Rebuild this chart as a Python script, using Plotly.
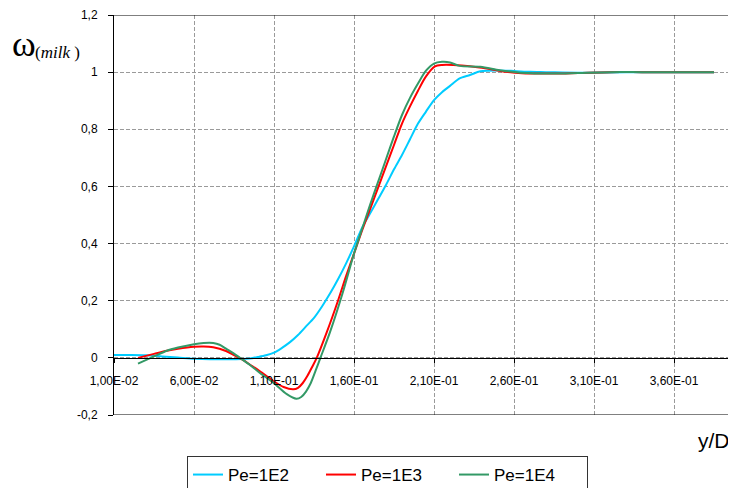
import plotly.graph_objects as go

# ---- data ----
x_pe1e2 = [0.01, 0.02, 0.03, 0.04, 0.05, 0.06, 0.07, 0.08, 0.09, 0.095, 0.10, 0.105,
           0.11, 0.115, 0.12, 0.125, 0.13, 0.135, 0.14, 0.145, 0.15, 0.155, 0.16,
           0.165, 0.17, 0.175, 0.18, 0.185, 0.19, 0.195, 0.20, 0.205, 0.21, 0.215,
           0.22, 0.226, 0.2325, 0.239, 0.25, 0.26, 0.27, 0.28, 0.30, 0.32, 0.34,
           0.36, 0.385]
y_pe1e2 = [0.010, 0.010, 0.009, 0.005, 0.001, -0.003, -0.005, -0.005, -0.004, -0.002,
           0.003, 0.009, 0.018, 0.035, 0.055, 0.080, 0.110, 0.140, 0.180, 0.225,
           0.275, 0.330, 0.390, 0.455, 0.505, 0.555, 0.605, 0.660, 0.710, 0.765,
           0.820, 0.862, 0.902, 0.930, 0.952, 0.978, 0.990, 1.003, 1.006, 1.004,
           1.001, 1.000, 0.998, 0.999, 1.000, 1.000, 1.000]

x_pe1e3 = [0.025, 0.035, 0.043, 0.05, 0.06, 0.066, 0.072, 0.08, 0.085, 0.0908, 0.095,
           0.101, 0.1096, 0.116, 0.122, 0.125, 0.128, 0.131, 0.134, 0.1367, 0.143,
           0.15, 0.155, 0.16, 0.165, 0.17, 0.175, 0.18, 0.185, 0.19, 0.195, 0.20,
           0.205, 0.2106, 0.215, 0.222, 0.2325, 0.243, 0.255, 0.265, 0.285, 0.30,
           0.32, 0.34, 0.36, 0.385]
y_pe1e3 = [0.000, 0.014, 0.025, 0.032, 0.039, 0.040, 0.037, 0.024, 0.010, -0.008,
           -0.024, -0.046, -0.081, -0.102, -0.110, -0.105, -0.088, -0.062, -0.030,
           0.000, 0.090, 0.200, 0.285, 0.365, 0.445, 0.520, 0.595, 0.670, 0.745,
           0.820, 0.880, 0.935, 0.985, 1.020, 1.025, 1.025, 1.021, 1.013, 1.001,
           0.996, 0.995, 0.997, 1.000, 1.000, 1.000, 1.000]

x_pe1e4 = [0.025, 0.035, 0.043, 0.05, 0.06, 0.066, 0.072, 0.076, 0.08, 0.085, 0.089,
           0.095, 0.101, 0.1096, 0.118, 0.124, 0.127, 0.130, 0.133, 0.136, 0.139,
           0.145, 0.153, 0.16, 0.165, 0.17, 0.175, 0.18, 0.185, 0.19, 0.195, 0.20,
           0.205, 0.21, 0.215, 0.22, 0.226, 0.239, 0.251, 0.264, 0.285, 0.30, 0.32,
           0.34, 0.36, 0.385]
y_pe1e4 = [-0.020, 0.005, 0.025, 0.036, 0.048, 0.052, 0.052, 0.046, 0.032, 0.015,
           -0.001, -0.025, -0.052, -0.087, -0.127, -0.143, -0.137, -0.118, -0.088,
           -0.045, 0.000, 0.090, 0.229, 0.365, 0.450, 0.535, 0.615, 0.695, 0.775,
           0.850, 0.910, 0.960, 1.005, 1.030, 1.036, 1.034, 1.022, 1.019, 1.007,
           0.998, 0.995, 0.997, 1.000, 1.000, 1.000, 1.000]

series_names = ["Pe=1E2", "Pe=1E3", "Pe=1E4"]
series_colors = ["#00CCFF", "#FF0000", "#339966"]

x_tickvals = [0.01, 0.06, 0.11, 0.16, 0.21, 0.26, 0.31, 0.36]
x_ticktext = ["1,00E-02", "6,00E-02", "1,10E-01", "1,60E-01", "2,10E-01",
              "2,60E-01", "3,10E-01", "3,60E-01"]
y_tickvals = [-0.2, 0, 0.2, 0.4, 0.6, 0.8, 1.0, 1.2]
y_ticktext = ["-0,2", "0", "0,2", "0,4", "0,6", "0,8", "1", "1,2"]

FONT = "Arial, Liberation Sans, sans-serif"
SERIF = "Times New Roman, Liberation Serif, serif"
GRID_DASH = "4px,2px"

# page has an 8px body margin; plot area sits at page x 114..736, y 15..415
fig = go.Figure()
for xs, ys, name, col in zip([x_pe1e2, x_pe1e3, x_pe1e4],
                             [y_pe1e2, y_pe1e3, y_pe1e4],
                             series_names, series_colors):
    fig.add_trace(go.Scatter(x=xs, y=ys, name=name, mode="lines",
                             line=dict(color=col, width=2, shape="spline", smoothing=0.8)))

fig.update_layout(
    width=728, height=480,
    margin=dict(l=106, r=0, t=7, b=73, autoexpand=False),
    paper_bgcolor="white", plot_bgcolor="white",
    font=dict(family=FONT, size=12, color="black"),
    xaxis=dict(range=[0.01, 0.39875], anchor="free", position=0.2 / 1.4,
               tickvals=x_tickvals, ticktext=x_ticktext,
               showline=True, linecolor="black", linewidth=1,
               ticks="outside", ticklen=4, tickcolor="black",
               ticklabelstandoff=8,
               showgrid=True, gridcolor="#9a9a9a", griddash=GRID_DASH, gridwidth=1,
               zeroline=False, tickfont=dict(size=12)),
    yaxis=dict(range=[-0.2, 1.2], tickvals=y_tickvals, ticktext=y_ticktext,
               showline=True, linecolor="black", linewidth=1,
               ticks="outside", ticklen=5, tickcolor="black",
               ticklabelstandoff=8,
               showgrid=True, gridcolor="#9a9a9a", griddash=GRID_DASH, gridwidth=1,
               zeroline=False, tickfont=dict(size=12)),
    showlegend=True,
    legend=dict(orientation="h", x=(187 - 114) / 622, y=(415 - 456) / 400,
                xanchor="left", yanchor="top",
                bordercolor="#333333", borderwidth=1, font=dict(size=17),
                entrywidth=88, entrywidthmode="pixels", bgcolor="white",
                tracegroupgap=0, itemwidth=30),
)

# top and bottom frame lines
for yv in [1.2, -0.2]:
    fig.add_shape(type="line", xref="paper", yref="y", x0=0, x1=1, y0=yv, y1=yv,
                  line=dict(color="black", width=1))

# axis titles
fig.add_annotation(text="ω", xref="paper", yref="paper", x=(10 - 114) / 622,
                   y=(415 - 44) / 400, xanchor="left", yanchor="middle",
                   showarrow=False, font=dict(family=SERIF, size=36, color="black"))
fig.add_annotation(text="(<i>milk</i> )", xref="paper", yref="paper", x=(33 - 114) / 622,
                   y=(415 - 53) / 400, xanchor="left", yanchor="middle",
                   showarrow=False, font=dict(family=SERIF, size=17, color="black"))
fig.add_annotation(text="y/D", xref="paper", yref="paper", x=(714 - 114) / 622,
                   y=(415 - 440) / 400, xanchor="center", yanchor="middle",
                   showarrow=False, font=dict(family=FONT, size=21, color="black"))

fig.write_html("out.html")
